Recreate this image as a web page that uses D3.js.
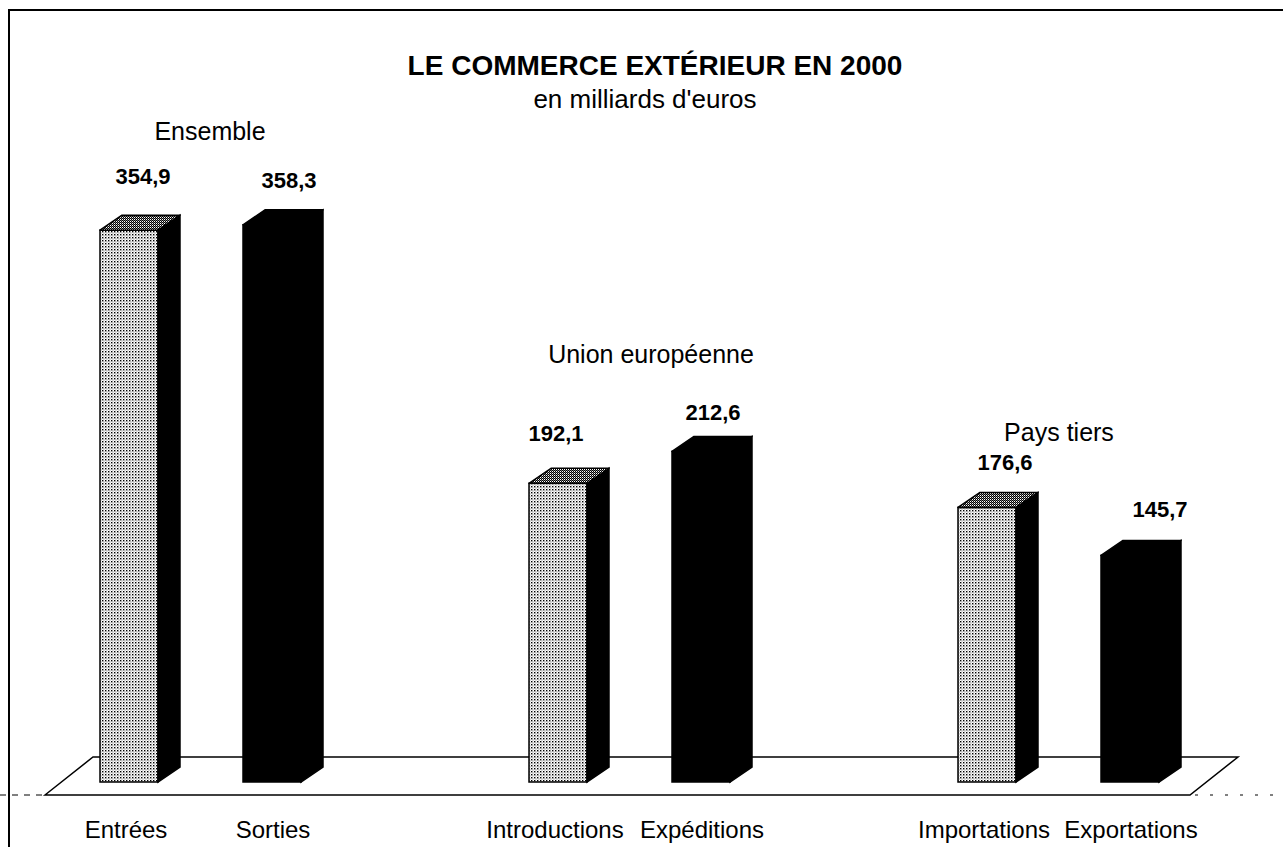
<!DOCTYPE html>
<html><head><meta charset="UTF-8">
<script src="https://d3js.org/d3.v7.min.js"></script>
<style>
  body { margin: 0; background: #fff; }
  text { font-family: "Liberation Sans", Arial, sans-serif; fill: #000; }
</style>
</head>
<body>
<script>
"use strict";
// data
const groups = ["Ensemble", "Union européenne", "Pays tiers"];
const flowLabels = [["Entrées", "Sorties"], ["Introductions", "Expéditions"], ["Importations", "Exportations"]];
const inValues = [354.9, 192.1, 176.6];
const outValues = [358.3, 212.6, 145.7];

// hand placed label nudges (the original placed them by hand too)
const valueNudge = [[14, 31], [17, 22], [-2, 27], [12, 16], [18, 22], [30, 23]];
const groupLabelPos = [[210, 140], [651, 363], [1059, 441]];

let width = 1283, height = 847;
let svg = d3.select("body").append("svg")
    .attr("width", width).attr("height", height);

// patterns for the dotted bars
let defs = svg.append("defs");
let p1 = defs.append("pattern").attr("id", "dots").attr("width", 3).attr("height", 3)
    .attr("patternUnits", "userSpaceOnUse");
p1.append("rect").attr("width", 3).attr("height", 3).attr("fill", "#fff");
p1.append("rect").attr("width", 1.4).attr("height", 1.4).attr("fill", "#000");
p1.append("rect").attr("x", 1.5).attr("y", 1.5).attr("width", 1).attr("height", 1).attr("fill", "#666");
let p2 = defs.append("pattern").attr("id", "dotsDark").attr("width", 2).attr("height", 2)
    .attr("patternUnits", "userSpaceOnUse");
p2.append("rect").attr("width", 2).attr("height", 2).attr("fill", "#fff");
p2.append("rect").attr("width", 1).attr("height", 1).attr("fill", "#000");
p2.append("rect").attr("x", 1).attr("y", 1).attr("width", 1).attr("height", 1).attr("fill", "#000");
p2.append("rect").attr("x", 1).attr("width", 1).attr("height", 1).attr("fill", "#777");

// frame
svg.append("path").attr("d", "M9,847 V10 H1283").attr("fill", "none")
    .attr("stroke", "#000").attr("stroke-width", 2);

// scales
let base = 782;
let y = d3.scaleLinear().domain([0, 400]).range([base, base - 622]);
let xg = d3.scaleBand().domain(groups).range([100, 100 + 3 * 429]);
let xi = d3.scalePoint().domain([0, 1]).range([0, 143]);
let bw = 58, dx = 22, dy = 15;

// floor
svg.append("path")
    .attr("d", "M45,795 L93,757 L1238,757 L1190,795 Z")
    .attr("fill", "#fff").attr("stroke", "#000").attr("stroke-width", 1.5);
svg.append("line").attr("x1", 0).attr("x2", 45).attr("y1", 795).attr("y2", 795)
    .attr("stroke", "#000").attr("stroke-width", 1).attr("stroke-dasharray", "6,6");
svg.append("line").attr("x1", 1195).attr("x2", 1283).attr("y1", 795).attr("y2", 795)
    .attr("stroke", "#000").attr("stroke-width", 1).attr("stroke-dasharray", "3,12");

let bars = [];
groups.forEach((g, i) => {
  bars.push({group: g, k: 0, label: flowLabels[i][0], value: inValues[i]});
  bars.push({group: g, k: 1, label: flowLabels[i][1], value: outValues[i]});
});
bars.forEach((d, i) => { d.x = xg(d.group) + xi(d.k); d.nudge = valueNudge[i]; });

let bar = svg.selectAll("g.bar").data(bars).enter().append("g").attr("class", "bar");

// front face
bar.append("rect")
    .attr("x", d => d.x).attr("y", d => y(d.value))
    .attr("width", bw).attr("height", d => base - y(d.value))
    .attr("fill", d => d.k === 0 ? "url(#dots)" : "#000")
    .attr("stroke", "#000").attr("stroke-width", 1.5);
// side face
bar.append("path")
    .attr("d", d => {
      let x1 = d.x + bw, t = y(d.value);
      return `M${x1},${t} L${x1 + dx},${t - dy} L${x1 + dx},${base - dy} L${x1},${base} Z`;
    })
    .attr("fill", "#000").attr("stroke", "#000").attr("stroke-width", 1.5);
// top face
bar.append("path")
    .attr("d", d => {
      let t = y(d.value);
      return `M${d.x},${t} L${d.x + dx},${t - dy} L${d.x + bw + dx},${t - dy} L${d.x + bw},${t} Z`;
    })
    .attr("fill", d => d.k === 0 ? "url(#dotsDark)" : "#000")
    .attr("stroke", "#000").attr("stroke-width", 1.5).attr("stroke-linejoin", "round");

// value labels
bar.append("text")
    .attr("x", d => d.x + bw / 2 + d.nudge[0])
    .attr("y", d => y(d.value) - dy - d.nudge[1])
    .attr("text-anchor", "middle")
    .style("font-weight", "bold").style("font-size", "22px")
    .text(d => d3.format(".1f")(d.value).replace(".", ","));

// category labels
bar.append("text")
    .attr("x", d => d.x + bw / 2 + (d.k === 0 ? -3 : 1))
    .attr("y", 838)
    .attr("text-anchor", "middle")
    .style("font-size", "24px")
    .text(d => d.label);

// group labels
svg.selectAll("text.group").data(groups).enter().append("text")
    .attr("class", "group")
    .attr("x", (d, i) => groupLabelPos[i][0])
    .attr("y", (d, i) => groupLabelPos[i][1])
    .attr("text-anchor", "middle")
    .style("font-size", "25px")
    .text(d => d);

// titles
svg.append("text").attr("x", 655).attr("y", 75).attr("text-anchor", "middle")
    .style("font-weight", "bold").style("font-size", "28px")
    .text("LE COMMERCE EXTÉRIEUR EN 2000");
svg.append("text").attr("x", 645).attr("y", 108).attr("text-anchor", "middle")
    .style("font-size", "26px")
    .text("en milliards d'euros");
</script>
</body>
</html>
